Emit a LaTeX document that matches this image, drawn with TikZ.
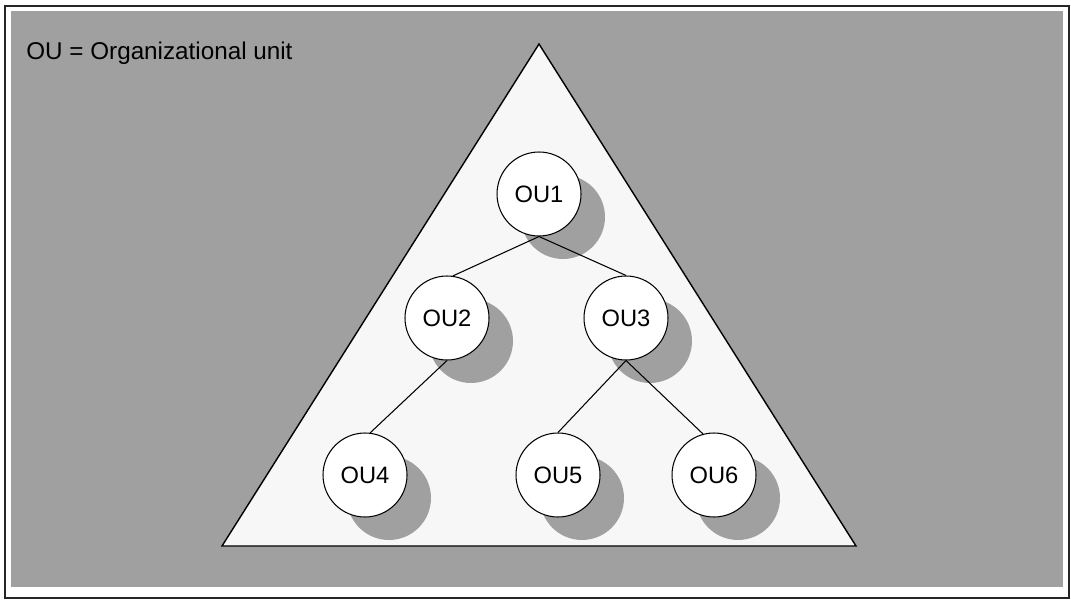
\documentclass[tikz,border=0pt]{standalone}
\usepackage{fontspec}
\setmainfont{Liberation Sans}
\usepackage{tikz}
\usetikzlibrary{shadows, positioning}
\definecolor{bggray}{HTML}{A0A0A0}
\definecolor{trifill}{HTML}{F7F7F7}
\tikzset{
  ou/.style={circle, draw, line width=0.6pt, fill=white, minimum size=1.68cm, inner sep=0pt,
    font=\fontsize{13.5}{16}\selectfont,
    drop shadow={fill=bggray, opacity=1, shadow xshift=0.48cm, shadow yshift=-0.46cm}},
  link/.style={line width=0.6pt}
}
\begin{document}
\begin{tikzpicture}[x=0.02cm, y=-0.02cm]
  \useasboundingbox (0,0) rectangle (1071,601);
  \fill[white] (0,0) rectangle (1071,601);
  \draw[line width=1.1pt, black!85] (5,6) rectangle (1069,598);
  \fill[bggray] (11,11) rectangle (1063,587);
  \node[anchor=base west, inner sep=0pt, font=\fontsize{13.8}{16}\selectfont] (legend) at (26,60) {OU = Organizational unit};
  % the OU tree
  \draw[line width=0.8pt, fill=trifill] (539,44) -- (856,546) -- (222,546) -- cycle;
  \node[ou] (ou1) at (539,194) {OU1};
  \node[ou] (ou2) at (447,318) {OU2};
  \node[ou] (ou3) at (626,318) {OU3};
  \node[ou] (ou4) at (365,475) {OU4};
  \node[ou] (ou5) at (558,475) {OU5};
  \node[ou] (ou6) at (714,475) {OU6};
  \draw[link] (ou1.south) -- (ou2.82);
  \draw[link] (ou1.south) -- (ou3.north);
  \draw[link] (ou2.south) -- (ou4.83);
  \draw[link] (ou3.south) -- (ou5.north);
  \draw[link] (ou3.south) -- (ou6.105);
\end{tikzpicture}
\end{document}
